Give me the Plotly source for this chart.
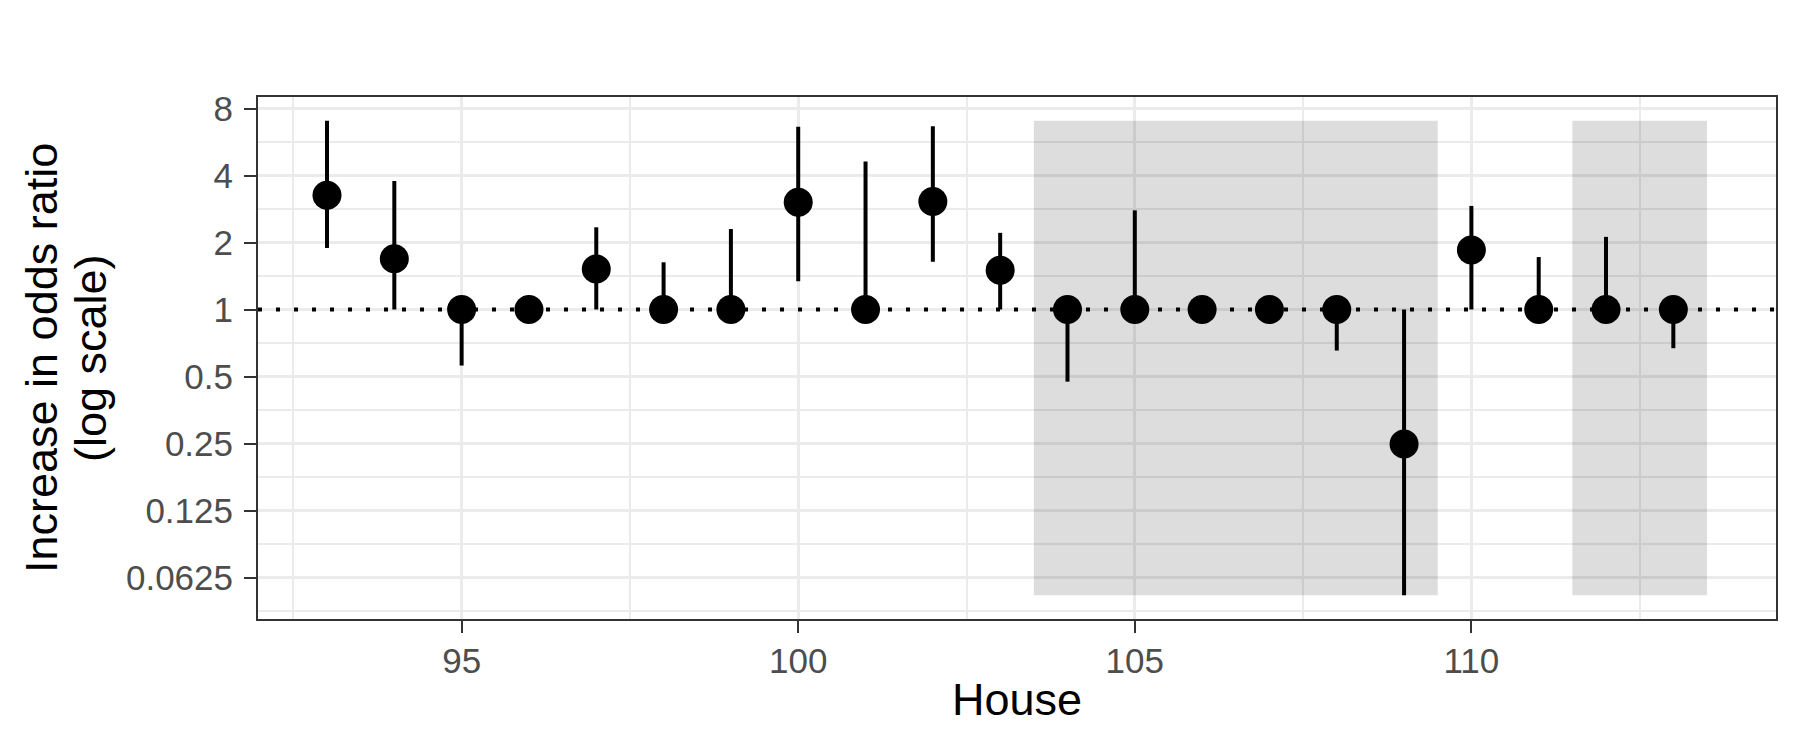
import numpy as np
import plotly.graph_objects as go

# ---- data ----
house = [93, 94, 95, 96, 97, 98, 99, 100, 101, 102, 103,
         104, 105, 106, 107, 108, 109, 110, 111, 112, 113]
odds_ratio = [3.26, 1.69, 1.0, 1.0, 1.52, 1.0, 1.0, 3.03, 1.0, 3.06, 1.50,
              1.0, 1.0, 1.0, 1.0, 1.0, 0.249, 1.85, 1.0, 1.0, 1.0]
upper = [7.05, 3.78, 1.0, 1.0, 2.34, 1.63, 2.30, 6.62, 4.62, 6.65, 2.21,
         1.0, 2.79, 1.0, 1.0, 1.0, 1.0, 2.92, 1.72, 2.12, 1.0]
lower = [1.89, 1.0, 0.56, 1.0, 1.0, 1.0, 1.0, 1.34, 1.0, 1.64, 1.0,
         0.474, 1.0, 1.0, 1.0, 0.654, 0.052, 1.0, 1.0, 1.0, 0.67]
shade_start = [103.5, 111.5]
shade_end = [109.5, 113.5]
y_tick_vals = [0.0625, 0.125, 0.25, 0.5, 1, 2, 4, 8]
y_tick_text = ["0.0625", "0.125", "0.25", "0.5", "1", "2", "4", "8"]
x_tick_vals = [95, 100, 105, 110]
reference_level = 1

FONT = "Liberation Sans, Arial, sans-serif"
GRID = "#ebebeb"
AXIS = "#333333"

h = np.array(house, dtype=float)
o = np.array(odds_ratio)
up = np.array(upper)
lo = np.array(lower)

# ggplot-like 5% expansion
x_lo = min(h.min(), min(shade_start))
x_hi = max(h.max(), max(shade_end))
dx = (x_hi - x_lo) * 0.05
x_range = [x_lo - dx, x_hi + dx]
y_lo = np.log10(lo.min())
y_hi = np.log10(up.max())
dy = (y_hi - y_lo) * 0.05

# page has an 8px body margin; size the figure so the page is 1800x750
PAGE_OFF = 8
W, H = 1784, 734
L, R, T, B = 250, 16, 89, 123
pw = W - L - R
ph = H - T - B

fig = go.Figure()

# reference line at 1 (spans the whole panel)
fig.add_trace(go.Scatter(
    x=x_range, y=[reference_level, reference_level], mode="lines",
    line=dict(color="black", width=4, dash="4px,14px"),
    showlegend=False, hoverinfo="skip",
))

fig.add_trace(go.Scatter(
    x=house, y=odds_ratio, mode="markers",
    marker=dict(size=29, color="black"),
    error_y=dict(type="data", symmetric=False,
                 array=list(up - o), arrayminus=list(o - lo),
                 color="black", thickness=4, width=0),
    showlegend=False, hoverinfo="x+y",
))

shapes = []
for s, e in zip(shade_start, shade_end):
    shapes.append(dict(type="rect", xref="x", yref="y",
                       x0=s, x1=e, y0=lo.min(), y1=up.max(),
                       fillcolor="rgba(0,0,0,0.135)", line=dict(width=0),
                       layer="between"))

minor_y = [2 ** (k + 0.5) for k in range(-5, 3)]


def px_x(page_px):
    return (page_px - PAGE_OFF - L) / pw


def px_y(page_py):
    return 1 - (page_py - PAGE_OFF - T) / ph


fig.update_layout(
    width=W, height=H,
    margin=dict(l=L, r=R, t=T, b=B, autoexpand=False),
    paper_bgcolor="white", plot_bgcolor="white",
    font=dict(family=FONT, color="black"),
    shapes=shapes,
    xaxis=dict(
        range=x_range,
        tickmode="array", tickvals=x_tick_vals,
        ticks="outside", ticklen=12, tickwidth=2, tickcolor=AXIS,
        tickfont=dict(size=35, color="#4d4d4d", family=FONT),
        ticklabelstandoff=-2,
        showgrid=True, gridcolor=GRID, gridwidth=3,
        minor=dict(tickmode="linear", tick0=92.5, dtick=5,
                   showgrid=True, gridcolor=GRID, gridwidth=1.5),
        showline=True, linecolor=AXIS, linewidth=2, mirror=True,
        zeroline=False,
    ),
    yaxis=dict(
        type="log",
        range=[y_lo - dy, y_hi + dy],
        tickmode="array", tickvals=y_tick_vals, ticktext=y_tick_text,
        ticks="outside", ticklen=12, tickwidth=2, tickcolor=AXIS,
        tickfont=dict(size=35, color="#4d4d4d", family=FONT),
        ticklabelstandoff=4,
        showgrid=True, gridcolor=GRID, gridwidth=3,
        minor=dict(tickmode="array", tickvals=minor_y,
                   showgrid=True, gridcolor=GRID, gridwidth=1.5),
        showline=True, linecolor=AXIS, linewidth=2, mirror=True,
        zeroline=False,
    ),
    annotations=[
        dict(text="House", xref="paper", yref="paper",
             x=0.5, y=px_y(699), xanchor="center", yanchor="middle",
             showarrow=False, font=dict(size=45, color="black", family=FONT)),
        dict(text="Increase in odds ratio", xref="paper", yref="paper",
             x=px_x(41), y=0.5, xanchor="center", yanchor="middle",
             textangle=-90, showarrow=False,
             font=dict(size=45, color="black", family=FONT)),
        dict(text="(log scale)", xref="paper", yref="paper",
             x=px_x(90), y=0.5, xanchor="center", yanchor="middle",
             textangle=-90, showarrow=False,
             font=dict(size=45, color="black", family=FONT)),
    ],
)

fig.write_html("out.html")
